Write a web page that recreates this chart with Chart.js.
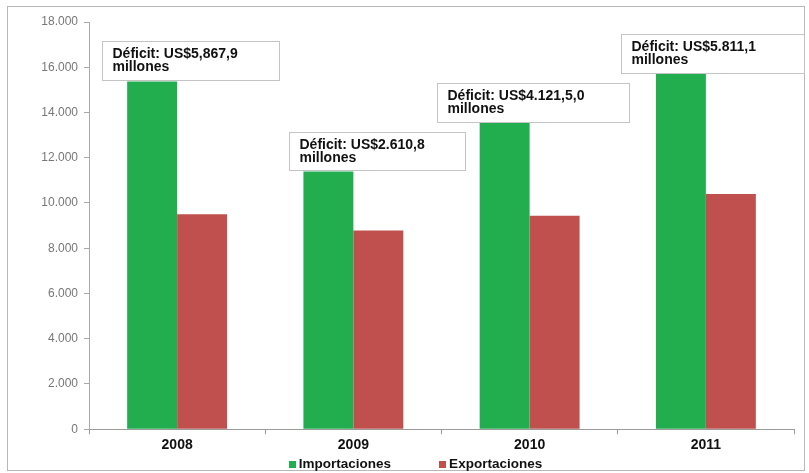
<!DOCTYPE html>
<html>
<head>
<meta charset="utf-8">
<script src="https://cdn.jsdelivr.net/npm/chart.js@4/dist/chart.umd.min.js"></script>
<style>
  html, body { margin: 0; padding: 0; background: #fff; }
  #wrap { width: 809px; height: 473px; }
</style>
</head>
<body>
<div id="wrap"><canvas id="c" width="809" height="473"></canvas></div>
<script>
// data (US$ millones)
const years = ['2008', '2009', '2010', '2011'];
const exportaciones = [9500, 8780, 9440, 10400];
const deficit = [5867.9, 2610.8, 4121.5, 5811.1];
// imports = exports + deficit (the top of each green bar sits under its label)
const importaciones = exportaciones.map((v, i) => Math.round((v + deficit[i]) * 10) / 10);
const deficitLabels = [
  ['Déficit: US$5,867,9', 'millones'],
  ['Déficit: US$2.610,8', 'millones'],
  ['Déficit: US$4.121,5,0', 'millones'],
  ['Déficit: US$5.811,1', 'millones'],
];
const yTicks = [0, 2000, 4000, 6000, 8000, 10000, 12000, 14000, 16000, 18000];

// label box placement, relative to category centre and import bar top
const boxLayout = [
  { dx: -75, dy: -41, w: 177, h: 39 },
  { dx: -64, dy: -40, w: 176, h: 38 },
  { dx: -93, dy: -39, w: 192, h: 39 },
  { dx: -85, dy: -28, w: 183, h: 39 },
];

const FONT = '"Liberation Sans", Arial, sans-serif';
const fmtThousands = v => String(v).replace(/\B(?=(\d{3})+(?!\d))/g, '.');

const framePlugin = {
  id: 'frame',
  beforeDraw(chart) {
    const ctx = chart.ctx;
    ctx.save();
    ctx.fillStyle = '#fff';
    ctx.fillRect(0, 0, chart.width, chart.height);
    ctx.strokeStyle = '#b8b8b8';
    ctx.lineWidth = 1;
    ctx.strokeRect(7.5, 6.5, chart.width - 12, chart.height - 9);
    ctx.restore();
  }
};

const deficitBoxes = {
  id: 'deficitBoxes',
  afterDatasetsDraw(chart) {
    const ctx = chart.ctx;
    const x = chart.scales.x, y = chart.scales.y;
    ctx.save();
    ctx.font = 'bold 14px ' + FONT;
    ctx.textBaseline = 'alphabetic';
    ctx.textAlign = 'left';
    importaciones.forEach((v, i) => {
      const b = boxLayout[i];
      const left = Math.round(x.getPixelForValue(i) + b.dx) + 0.5;
      const top = Math.round(y.getPixelForValue(v) + b.dy) + 0.5;
      ctx.fillStyle = '#fff';
      ctx.fillRect(left, top, b.w, b.h);
      ctx.strokeStyle = '#c4c4c4';
      ctx.lineWidth = 1;
      ctx.strokeRect(left, top, b.w, b.h);
      ctx.fillStyle = '#111';
      ctx.fillText(deficitLabels[i][0], left + 10, top + 16);
      ctx.fillText(deficitLabels[i][1], left + 10, top + 29);
    });
    ctx.restore();
  }
};

const bottomLegend = {
  id: 'bottomLegend',
  afterDraw(chart) {
    const ctx = chart.ctx;
    const ds = chart.data.datasets;
    ctx.save();
    ctx.font = 'bold 13.5px ' + FONT;
    ctx.textBaseline = 'middle';
    const sq = 7, gapText = 3, gapItems = 48;
    const widths = ds.map(d => sq + gapText + ctx.measureText(d.label).width);
    const total = widths.reduce((a, b) => a + b, 0) + gapItems * (ds.length - 1);
    let xx = (chart.chartArea.left + chart.chartArea.right) / 2 - 26 - total / 2;
    const yy = 464;
    ds.forEach((d, i) => {
      ctx.fillStyle = d.backgroundColor;
      ctx.fillRect(Math.round(xx), yy - 3, sq, sq);
      ctx.fillStyle = '#111';
      ctx.fillText(d.label, xx + sq + gapText, yy);
      xx += widths[i] + gapItems;
    });
    ctx.restore();
  }
};

new Chart(document.getElementById('c'), {
  type: 'bar',
  data: {
    labels: years,
    datasets: [
      { label: 'Importaciones', data: importaciones, backgroundColor: '#22ae4e' },
      { label: 'Exportaciones', data: exportaciones, backgroundColor: '#c0504d' },
    ]
  },
  options: {
    responsive: false,
    animation: false,
    devicePixelRatio: 1,
    layout: { padding: { top: 22, left: 30, right: 15, bottom: 16 } },
    datasets: { bar: { categoryPercentage: 0.567, barPercentage: 1.0 } },
    plugins: { legend: { display: false }, tooltip: { enabled: false } },
    scales: {
      x: {
        grid: { offset: true, drawOnChartArea: false, tickLength: 5, color: '#9a9a9a' },
        border: { color: '#9a9a9a' },
        ticks: { color: '#111', font: { family: FONT, size: 14, weight: 'bold' }, padding: 3 }
      },
      y: {
        min: 0,
        max: 18000,
        afterFit: s => { s.width = 59; },
        afterBuildTicks: s => { s.ticks = yTicks.map(v => ({ value: v })); },
        grid: { drawOnChartArea: false, tickLength: 5, color: '#a8a8a8' },
        border: { color: '#a8a8a8' },
        ticks: {
          color: '#777',
          padding: 6,
          font: { family: FONT, size: 12 },
          callback: v => fmtThousands(v)
        }
      }
    }
  },
  plugins: [framePlugin, deficitBoxes, bottomLegend]
});
</script>
</body>
</html>
